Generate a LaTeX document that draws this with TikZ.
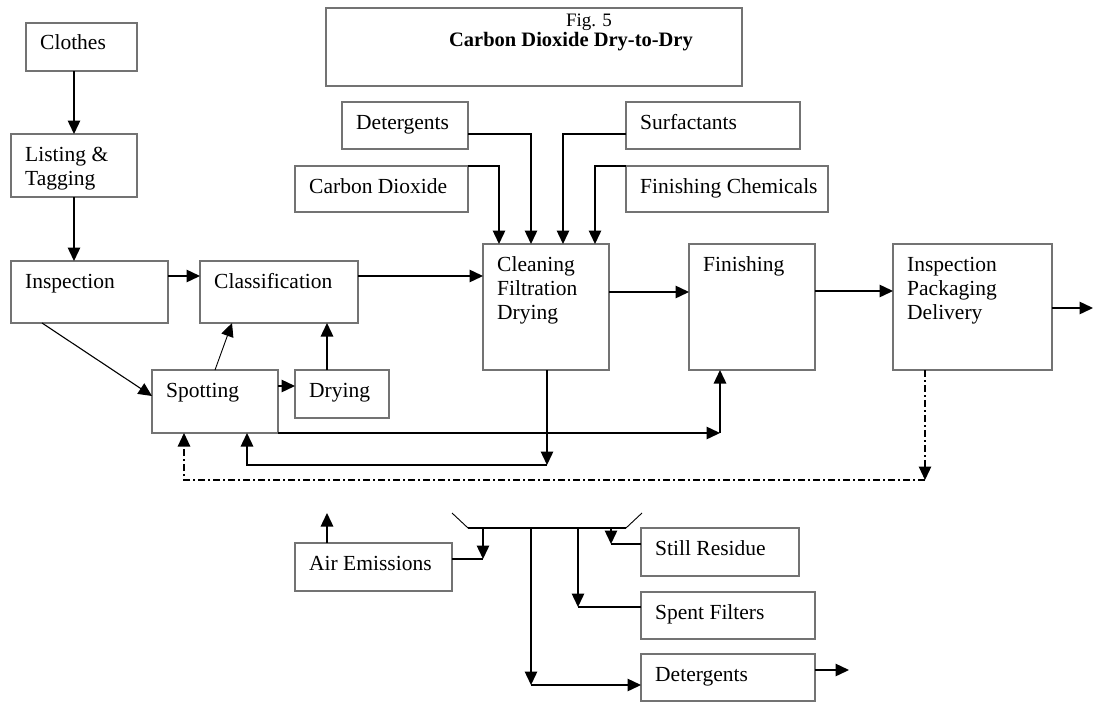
\documentclass[tikz,border=0pt]{standalone}
\usepackage{fontspec}
\setmainfont{Liberation Serif}
\usetikzlibrary{arrows.meta,calc}
\tikzset{
  box/.style={draw=black!55, line width=1.1pt, inner sep=0pt, outer sep=0pt, anchor=north west},
  txt/.style={anchor=base west, inner sep=0pt, font=\fontsize{21.5}{24}\selectfont},
  tip/.style={-{Triangle[length=13.5pt,width=12.5pt]}},
  arr/.style={draw=black, line width=1.4pt, tip},
  ln/.style={draw=black, line width=1.4pt},
  thin/.style={draw=black, line width=0.9pt},
  dashdot/.style={draw=black, line width=1.1pt, dash pattern=on 7pt off 3pt on 2pt off 3pt}
}
\newcommand\ml[1]{\begin{tabular}[t]{@{}l@{}}#1\end{tabular}}
\newcommand\bx[6]{%
  \node[box, minimum width={#4-#2}, minimum height={#5-#3}] (#1) at (#2,#3) {};
  \node[txt] (#1-t) at ($(#1.north west)+(14,27)$) {#6};}
\begin{document}
\begin{tikzpicture}[x=1pt,y=-1pt]
\useasboundingbox (0,0) rectangle (1094,701);
% title
\node[box, minimum width=416, minimum height=78] (title) at (326,8) {};
\node[anchor=base, inner sep=0pt, font=\fontsize{19}{22}\selectfont] (fig) at ($(title.north west)+(263,19)$) {Fig. 5};
\node[anchor=base, inner sep=0pt, font=\fontsize{20.5}{24}\selectfont\bfseries] (ttl) at ($(title.north west)+(245,39)$) {Carbon Dioxide Dry-to-Dry};
% boxes
\bx{clothes}{26}{23}{137}{71}{Clothes}
\bx{listing}{11}{134}{137}{197}{\ml{Listing \&\\Tagging}}
\bx{insp}{11}{261}{168}{323}{Inspection}
\bx{class}{200}{261}{358}{323}{Classification}
\bx{spot}{152}{370}{278}{433}{Spotting}
\bx{dry}{295}{370}{389}{418}{Drying}
\bx{clean}{483}{244}{609}{370}{\ml{Cleaning\\Filtration\\Drying}}
\bx{fin}{689}{244}{815}{370}{Finishing}
\bx{ipd}{893}{244}{1052}{370}{\ml{Inspection\\Packaging\\Delivery}}
\bx{det}{342}{102}{468}{149}{Detergents}
\bx{co2}{295}{166}{468}{212}{Carbon Dioxide}
\bx{surf}{626}{102}{800}{149}{Surfactants}
\bx{finc}{626}{166}{828}{212}{Finishing Chemicals}
\bx{air}{295}{543}{452}{591}{Air Emissions}
\bx{still}{641}{528}{799}{576}{Still Residue}
\bx{spent}{641}{592}{815}{639}{Spent Filters}
\bx{det2}{641}{654}{815}{701}{Detergents}
% main chain
\draw[arr] (listing.north |- clothes.south) -- (listing.north);
\draw[arr] (listing.south) -- (listing.south |- insp.north);
\draw[arr] ($(insp.north east)+(0,15)$) -- ($(class.north west)+(0,15)$);
\draw[arr] ($(class.north east)+(0,15)$) -- (clean.west |- {$(class.north east)+(0,15)$});
\draw[arr] ($(clean.north east)+(0,48)$) -- (fin.west |- {$(clean.north east)+(0,48)$});
\draw[arr] ($(fin.north east)+(0,47)$) -- (ipd.west |- {$(fin.north east)+(0,47)$});
\coordinate (out1) at ($(ipd.north east)+(41,64)$);
\draw[arr] (ipd.east |- out1) -- (out1);
% inspection -> spotting, spotting -> classification, drying
\draw[thin, line width=1.1pt, tip] ($(insp.south west)+(31,0)$) -- ($(spot.north west)+(0,26)$);
\draw[thin, tip] ($(spot.north west)+(63,0)$) -- ($(class.south west)+(32,0)$);
\draw[arr] (spot.east |- {$(spot.north east)+(0,16)$}) -- ($(dry.north west)+(0,16)$);
\draw[arr] ($(dry.north west)+(32,0)$) -- (class.south -| {$(dry.north west)+(32,0)$});
% inputs
\draw[arr] ($(det.north east)+(0,32)$) -| ($(clean.north west)+(48,0)$);
\draw[arr] (co2.north east) -| ($(clean.north west)+(16,0)$);
\draw[arr] ($(surf.north west)+(0,32)$) -| ($(clean.north west)+(80,0)$);
\draw[arr] (finc.north west) -| ($(clean.north west)+(112,0)$);
% return from cleaning to spotting
\coordinate (ret) at ($(clean.south west)+(64,95)$);
\draw[arr] ($(clean.south west)+(64,0)$) -- (ret);
\draw[arr] (ret) -| ($(spot.south west)+(95,0)$);
% spotting -> finishing
\coordinate (fj) at ($(fin.south west)+(31,63)$);
\draw[arr] (spot.south east) -- (fj);
\draw[arr] (fj) -- (fj |- fin.south);
% dash-dot return
\coordinate (dd) at ($(ipd.south west)+(32,110)$);
\draw[dashdot, tip] ($(ipd.south west)+(32,0)$) -- (dd);
\draw[dashdot, tip] (dd) -| ($(spot.south west)+(32,0)$);
% waste hopper
\coordinate (h1) at (452,513);
\coordinate (h2) at (468,528);
\coordinate (h3) at (626,528);
\coordinate (h4) at (642,513);
\draw[thin] (h1) -- (h2);
\draw[thin] (h3) -- (h4);
\draw[ln] (h2) -- (h3);
\coordinate (ae) at (483,559);
\draw[arr] (ae |- h2) -- (ae);
\draw[ln] ($(air.north east)+(0,16)$) -- (ae);
\coordinate (airup) at ($(air.north west)+(32,-30)$);
\draw[arr] ($(air.north west)+(32,0)$) -- (airup);
\coordinate (b2) at (531,685);
\draw[arr] (b2 |- h2) -- (b2);
\draw[arr] (b2) -- (det2.west |- b2);
\coordinate (b3) at (578,607);
\draw[arr] (b3 |- h2) -- (b3);
\draw[ln] (spent.west |- b3) -- (b3);
\coordinate (b4) at (611,544);
\draw[arr] (b4 |- h2) -- (b4);
\draw[ln] (still.west |- b4) -- (b4);
\coordinate (out2) at ($(det2.north east)+(34,16)$);
\draw[arr] (det2.east |- out2) -- (out2);
\end{tikzpicture}
\end{document}
